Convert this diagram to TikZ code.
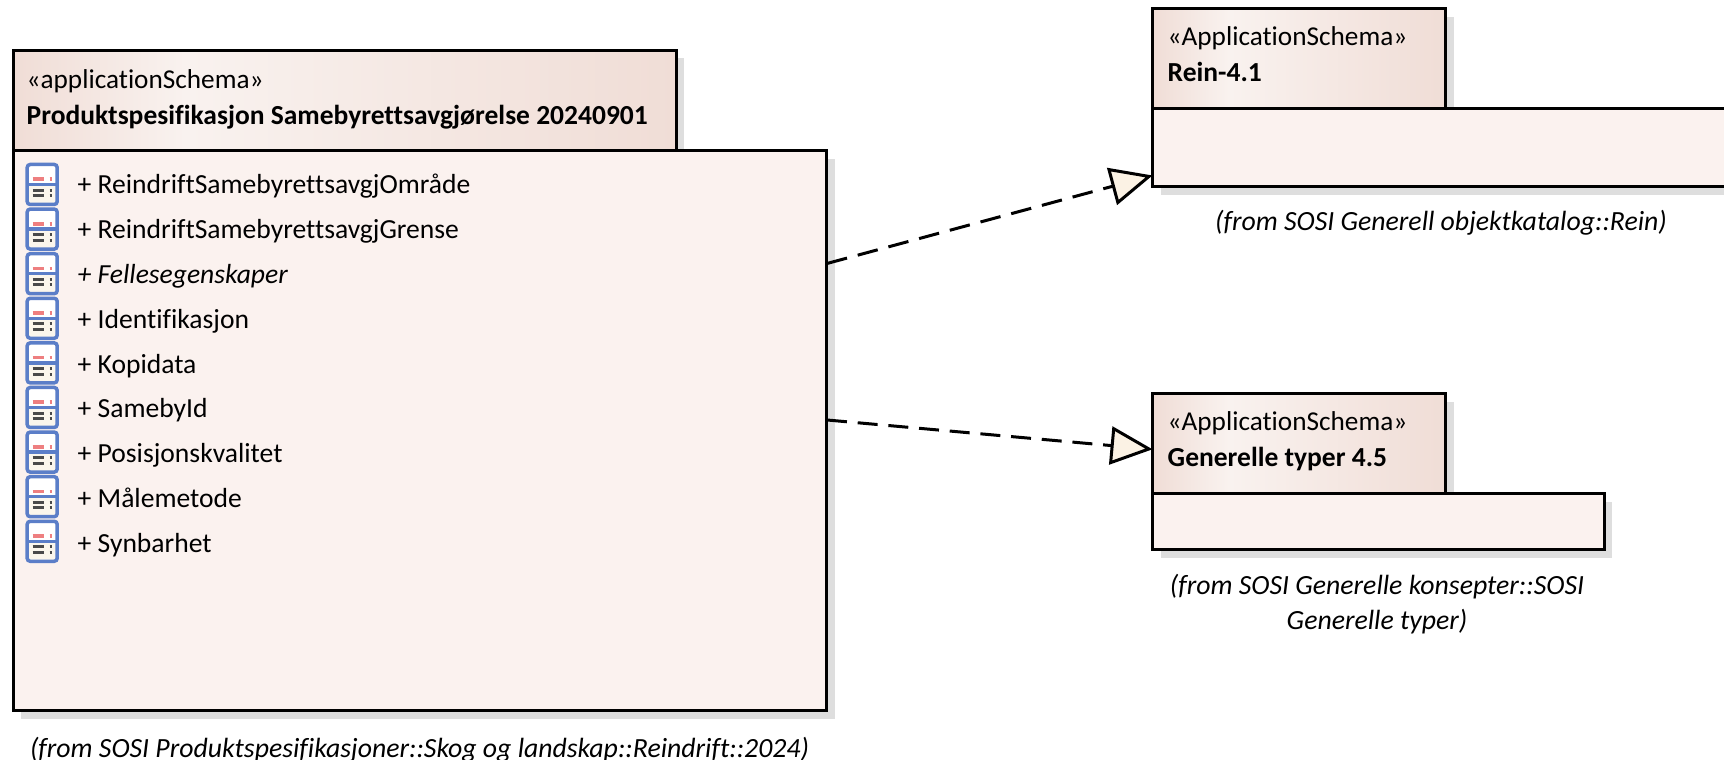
\documentclass[tikz,border=0pt]{standalone}
\usepackage{fontspec}
\setmainfont{Carlito}[Ligatures={NoCommon}]
\usetikzlibrary{arrows.meta,shadows}

\definecolor{tabdark}{HTML}{F0DDD6}
\definecolor{tablight}{HTML}{F9F2EF}
\definecolor{bodyfill}{HTML}{FBF2EF}
\definecolor{shadowgray}{HTML}{DEDEDE}
\definecolor{tipfill}{HTML}{FBF2E4}
\definecolor{iconblue}{HTML}{5B7EC8}
\definecolor{iconpink}{HTML}{EE7F80}
\definecolor{icondark}{HTML}{4A4A4A}
\definecolor{iconcream}{HTML}{FBF6EC}

\pgfdeclarehorizontalshading{tabshade}{100bp}{color(0bp)=(tabdark); color(25bp)=(tabdark); color(38bp)=(tablight); color(75bp)=(tabdark); color(100bp)=(tabdark)}

\tikzset{
  umlshadow/.style={drop shadow={shadow xshift=.08cm,shadow yshift=-.08cm,fill=shadowgray,opacity=1}},
  tabbox/.style={draw,line width=.03cm,anchor=north west,inner sep=0,outer sep=0,umlshadow,shading=tabshade},
  bodybox/.style={draw,line width=.03cm,anchor=north west,inner sep=0,outer sep=0,umlshadow,fill=bodyfill},
  headlabel/.style={anchor=base west,inner sep=0,font=\fontsize{7.75}{9}\selectfont},
  boldlabel/.style={anchor=base west,inner sep=0,font=\fontsize{7.83}{9}\selectfont\bfseries},
  memberlabel/.style={anchor=base west,inner sep=0,font=\fontsize{7.85}{9}\selectfont},
  fromlabel/.style={inner sep=0,align=center,font=\fontsize{7.9}{9.9}\selectfont\itshape},
  realizeline/.style={line width=.03cm,-{Triangle[length=.42cm,width=.38cm,fill=tipfill]}},
  membericon/.pic={
    \fill[white,rounded corners=.03cm] (-.15,0) rectangle (.15,.2);
    \fill[iconcream,rounded corners=.03cm] (-.15,-.2) rectangle (.15,0);
    \draw[iconpink,line width=.035cm] (-.097,.053) -- (.013,.053) (.073,.053) -- (.1,.053);
    \draw[icondark,line width=.03cm] (-.097,-.057) -- (.013,-.057) (.073,-.057) -- (.1,-.057);
    \draw[icondark,line width=.03cm] (-.097,-.113) -- (.013,-.113) (.073,-.113) -- (.1,-.113);
    \draw[iconblue,line width=.035cm] (-.15,0) -- (.15,0);
    \draw[iconblue,line width=.035cm,rounded corners=.03cm] (-.15,-.2) rectangle (.15,.2);
  }
}

\begin{document}
\begin{tikzpicture}
  \useasboundingbox (0,0) rectangle (17.24,7.6);

  % main package
  \node[tabbox,minimum width=6.63cm,minimum height=1cm] (mainTab) at (.13,7.095) {};
  \node[bodybox,minimum width=8.137cm,minimum height=5.603cm] (mainBody) at (.13,6.093) {};
  \node[headlabel] (mainStereo) at (.26,6.715) {«applicationSchema»};
  \node[boldlabel] (mainName) at (.26,6.35) {Produktspesifikasjon Samebyrettsavgjørelse 20240901};
  \foreach \i/\txt [evaluate=\i as \ypos using 5.66-.448*\i, evaluate=\i as \yicon using 5.755-.446*\i] in
    {0/{+ ReindriftSamebyrettsavgjOmråde},1/{+ ReindriftSamebyrettsavgjGrense},2/{\itshape + Fellesegenskaper},
     3/{+ Identifikasjon},4/{+ Kopidata},5/{+ SamebyId},6/{+ Posisjonskvalitet},7/{+ Målemetode},8/{+ Synbarhet}}{
    \pic at (.422,\yicon) {membericon};
    \node[memberlabel] (member\i) at (.77,\ypos) {\txt};
  }
  \node[fromlabel] (mainFrom) at (4.195,.105) {(from SOSI Produktspesifikasjoner::Skog og landskap::Reindrift::2024)};

  % Rein
  \node[tabbox,minimum width=2.93cm,minimum height=1cm] (reinTab) at (11.525,7.51) {};
  \node[bodybox,minimum width=6.2cm,minimum height=.78cm] (reinBody) at (11.525,6.51) {};
  \node[headlabel] (reinStereo) at (11.67,7.145) {«ApplicationSchema»};
  \node[boldlabel] (reinName) at (11.67,6.785) {Rein-4.1};
  \node[fromlabel] (reinFrom) at (14.41,5.37) {(from SOSI Generell objektkatalog::Rein)};

  % Generelle typer
  \node[tabbox,minimum width=2.93cm,minimum height=1.003cm] (genTab) at (11.525,3.663) {};
  \node[bodybox,minimum width=4.515cm,minimum height=.557cm] (genBody) at (11.525,2.66) {};
  \node[headlabel] (genStereo) at (11.67,3.295) {«ApplicationSchema»};
  \node[boldlabel] (genName) at (11.67,2.935) {Generelle typer 4.5};
  \node[fromlabel] (genFrom) at (13.77,1.56) {(from SOSI Generelle konsepter::SOSI\\Generelle typer)};

  \coordinate (reinOut) at (8.27,4.965);
  \coordinate (reinIn) at (11.525,5.845);
  \coordinate (genOut) at (8.27,3.40);
  \coordinate (genIn) at (11.525,3.107);
  \draw[realizeline,dash pattern=on .207cm off .111cm] (reinOut) -- (reinIn);
  \draw[realizeline,dash pattern=on .2cm off .108cm] (genOut) -- (genIn);
\end{tikzpicture}
\end{document}
